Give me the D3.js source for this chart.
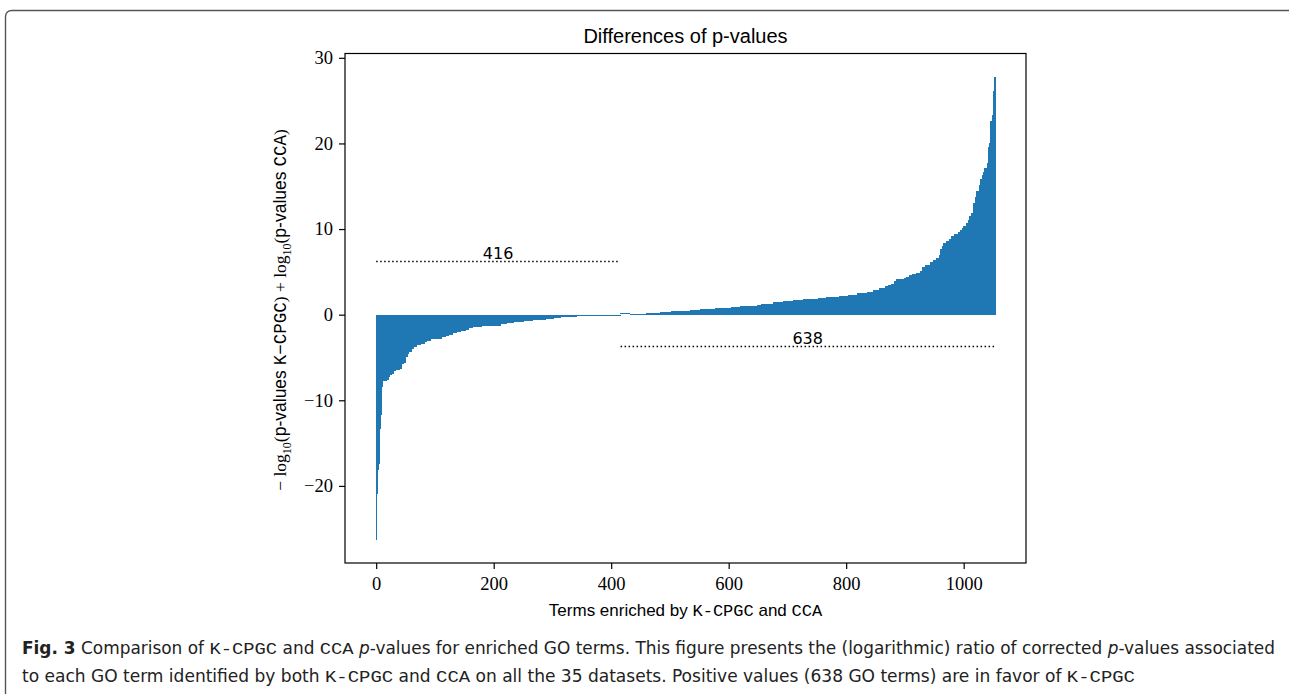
<!DOCTYPE html>
<html>
<head>
<meta charset="utf-8">
<script src="https://cdn.jsdelivr.net/npm/d3@7"></script>
<style>
  body { margin: 0; background: #fff; }
  svg { display: block; }
</style>
</head>
<body>
<div id="chart"></div>
<script>
// runs of sorted differences: [number of GO terms, value]
var negativeRuns = [
  [1, -26.3], [1, -21.0], [1, -19.8], [1, -18.1], [2, -17.5], [2, -13.4], [2, -11.7], [2, -8.4],
  [6, -7.8], [3, -7.6], [3, -7.3], [3, -7.1], [3, -6.9], [3, -6.6], [8, -6.5], [3, -6.3],
  [3, -5.8], [3, -5.6], [3, -4.9], [3, -4.6], [5, -4.4], [3, -4.0], [6, -3.8], [6, -3.6],
  [6, -3.4], [5, -3.2], [6, -3.1], [11, -2.9], [8, -2.8], [6, -2.6], [6, -2.45], [6, -2.33],
  [8, -2.18], [6, -2.02], [8, -1.94], [6, -1.83], [6, -1.56], [16, -1.48], [12, -1.36], [20, -1.28],
  [11, -1.09], [12, -0.97], [17, -0.82], [14, -0.74], [23, -0.66], [14, -0.51], [12, -0.39],
  [26, -0.3], [25, -0.2], [25, -0.12], [25, -0.05]
];
var positiveRuns = [
  [16, 0.04], [28, 0.12], [23, 0.23], [20, 0.35], [31, 0.47], [17, 0.58], [26, 0.70], [28, 0.82],
  [14, 0.93], [29, 1.05], [8, 1.17], [20, 1.28], [17, 1.44], [17, 1.56], [17, 1.67], [25, 1.79],
  [14, 1.91], [23, 2.06], [14, 2.22], [15, 2.33], [17, 2.53], [11, 2.68], [11, 2.92], [9, 3.15],
  [6, 3.3], [5, 3.42], [4, 3.54], [5, 3.97], [5, 4.12], [7, 4.2], [5, 4.32], [4, 4.44],
  [5, 4.63], [8, 4.75], [6, 4.86], [4, 5.06], [5, 5.6], [8, 5.83], [5, 6.18], [6, 6.42],
  [4, 6.65], [2, 7.0], [3, 7.62], [3, 8.05], [4, 8.36], [6, 8.6], [3, 8.83], [5, 9.22],
  [6, 9.37], [4, 9.65], [3, 9.92], [3, 10.1], [4, 10.4], [3, 10.7], [3, 11.1], [3, 11.55],
  [3, 11.9], [3, 13.0], [2, 13.8], [6, 14.47], [2, 15.2], [2, 15.9], [2, 16.3], [2, 16.7],
  [5, 17.1], [2, 17.7], [2, 19.6], [2, 20.0], [3, 22.6], [1, 23.3], [2, 26.1], [2, 27.8]
];
var splitLabels = ["416", "638"];
var splitLevels = [6.2, -3.73];
var xTicks = [0, 200, 400, 600, 800, 1000];
var yTicks = [-20, -10, 0, 10, 20, 30];

var W = 1289, H = 694;
var margin = {top: 53.5, right: 263, bottom: 131, left: 345};

// expand runs into one value per bar
var values = [];
negativeRuns.concat(positiveRuns).forEach(function(r) {
  for (var k = 0; k < r[0]; k++) values.push(r[1]);
});
var nNeg = d3.sum(negativeRuns, function(r) { return r[0]; });
var n = values.length;

var svg = d3.select("#chart").append("svg")
  .attr("width", W).attr("height", H);

// panel border (rounded top-left corner)
svg.append("path")
  .attr("d", "M5.5,700 V17 Q5.5,10.5 12,10.5 H1289")
  .attr("fill", "none")
  .attr("stroke", "#555")
  .attr("stroke-width", 1.4);

// matplotlib-like 5% margins
var xlo = -0.4, xhi = n - 1 + 0.4;
var xpad = (xhi - xlo) * 0.05;
var ylo = Math.min(0, d3.min(values)), yhi = Math.max(0, d3.max(values));
var ypad = (yhi - ylo) * 0.05;

var x = d3.scaleLinear()
  .domain([xlo - xpad, xhi + xpad])
  .range([margin.left, W - margin.right]);
var y = d3.scaleLinear()
  .domain([ylo - ypad, yhi + ypad])
  .range([H - margin.bottom, margin.top]);

var bw = Math.max(1, x(0.8) - x(0));
svg.append("g").selectAll("rect")
  .data(values)
  .enter().append("rect")
    .attr("x", function(d, i) { return x(i - 0.4); })
    .attr("width", bw)
    .attr("y", function(d) { return y(Math.max(0, d)) - (d > 0 && y(0) - y(d) < 1 ? 1 : 0); })
    .attr("height", function(d) { return Math.max(1, Math.abs(y(d) - y(0))); })
    .attr("fill", "#1f77b4")
    .attr("shape-rendering", "crispEdges");

// dotted split lines + counts
var spans = [[0, nNeg - 1], [nNeg, n - 1]];
spans.forEach(function(s, k) {
  svg.append("line")
    .attr("x1", x(s[0])).attr("x2", x(s[1]))
    .attr("y1", y(splitLevels[k])).attr("y2", y(splitLevels[k]))
    .attr("stroke", "#000")
    .attr("stroke-width", 1.5)
    .attr("stroke-dasharray", "1.5,2.5");
  svg.append("text")
    .attr("x", x((s[0] + s[1]) / 2))
    .attr("y", y(splitLevels[k]) - 3)
    .attr("text-anchor", "middle")
    .style("font-family", "'DejaVu Sans', sans-serif")
    .style("font-size", "16px")
    .text(splitLabels[k]);
});

// axes box
svg.append("rect")
  .attr("x", margin.left).attr("y", margin.top)
  .attr("width", W - margin.right - margin.left)
  .attr("height", H - margin.bottom - margin.top)
  .attr("fill", "none").attr("stroke", "#000").attr("stroke-width", 1.2);

var xAxis = svg.append("g")
  .attr("transform", "translate(0," + (H - margin.bottom) + ")")
  .call(d3.axisBottom(x).tickValues(xTicks).tickSize(6).tickPadding(8).tickFormat(d3.format("d")));
var yAxis = svg.append("g")
  .attr("transform", "translate(" + margin.left + ",0)")
  .call(d3.axisLeft(y).tickValues(yTicks).tickSize(6).tickPadding(6));
[xAxis, yAxis].forEach(function(a) {
  a.select(".domain").remove();
  a.selectAll(".tick line").attr("stroke", "#000").attr("stroke-width", 1.2);
  a.selectAll(".tick text")
    .style("font-family", "'Liberation Serif', serif")
    .style("font-size", "18.5px")
    .attr("fill", "#000");
});

// title
svg.append("text")
  .attr("x", (margin.left + W - margin.right) / 2)
  .attr("y", 43)
  .attr("text-anchor", "middle")
  .style("font-family", "'Liberation Sans', sans-serif")
  .style("font-size", "20px")
  .text("Differences of p-values");

// x label
var xl = svg.append("text")
  .attr("x", (margin.left + W - margin.right) / 2)
  .attr("y", 616)
  .attr("text-anchor", "middle")
  .style("font-size", "17px");
xl.append("tspan").style("font-family", "'Liberation Sans', sans-serif").text("Terms enriched by ");
xl.append("tspan").style("font-family", "'Liberation Mono', monospace").text("K-CPGC");
xl.append("tspan").style("font-family", "'Liberation Sans', sans-serif").text(" and ");
xl.append("tspan").style("font-family", "'Liberation Mono', monospace").text("CCA");

// y label with subscripts
var yl = svg.append("text")
  .attr("transform", "translate(286,310) rotate(-90)")
  .attr("text-anchor", "middle")
  .style("font-size", "17.5px");
var serif = "'Liberation Serif', serif", sans = "'Liberation Sans', sans-serif", mono = "'Liberation Mono', monospace";
function part(txt, fam, opts) {
  var t = yl.append("tspan").style("font-family", fam).text(txt);
  if (opts && opts.sub) t.attr("dy", 5).style("font-size", "12px");
  if (opts && opts.up) t.attr("dy", -5);
  return t;
}
part("\u2212 log", serif);
part("10", serif, {sub: true});
part("(", serif, {up: true});
part("p-values ", sans);
part("K\u2212CPGC", mono);
part(") + log", serif);
part("10", serif, {sub: true});
part("(", serif, {up: true});
part("p-values ", sans);
part("CCA", mono);
part(")", serif);

// caption
var capFont = "'DejaVu Sans Condensed', 'Liberation Sans Narrow', 'Liberation Sans', sans-serif";
function captionLine(yy, pieces, target) {
  var t = svg.append("text").attr("x", 22).attr("y", yy)
    .style("font-family", capFont).style("font-size", "17px").attr("fill", "#222");
  pieces.forEach(function(p) {
    var s = t.append("tspan").text(p[0]);
    if (p[1] === "b") s.style("font-weight", "bold");
    if (p[1] === "m") s.style("font-family", mono);
    if (p[1] === "i") s.style("font-style", "italic");
  });
  var len = t.node().getComputedTextLength();
  if (Math.abs(len - target) > 2) t.attr("textLength", target).attr("lengthAdjust", "spacingAndGlyphs");
}
captionLine(654, [
  ["Fig. 3", "b"], [" Comparison of "], ["K-CPGC", "m"], [" and "], ["CCA", "m"], [" "], ["p", "i"],
  ["-values for enriched GO terms. This figure presents the (logarithmic) ratio of corrected "], ["p", "i"],
  ["-values associated"]
], 1253);
captionLine(682, [
  ["to each GO term identified by both "], ["K-CPGC", "m"], [" and "], ["CCA", "m"],
  [" on all the 35 datasets. Positive values (638 GO terms) are in favor of "], ["K-CPGC", "m"]
], 1113);
</script>
</body>
</html>
